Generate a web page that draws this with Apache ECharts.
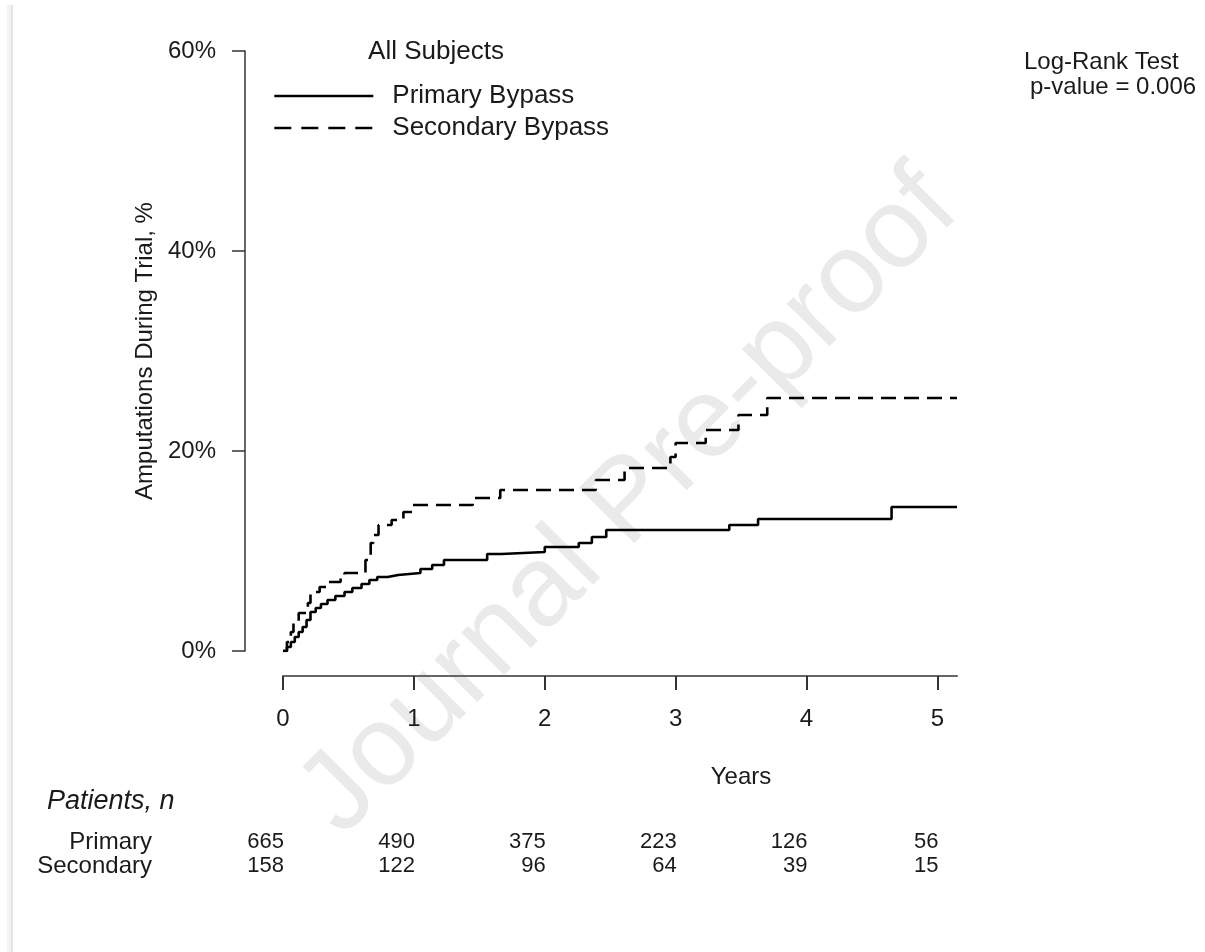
<!DOCTYPE html>
<html>
<head>
<meta charset="utf-8">
<script src="https://cdn.jsdelivr.net/npm/echarts@6/dist/echarts.min.js"></script>
<style>
html,body{margin:0;padding:0;background:#fff;}
#chart{width:1205px;height:952px;}
</style>
</head>
<body>
<div id="chart"></div>
<script>
// ---- data ----
var primaryTimes  = [0,0.03,0.06,0.09,0.12,0.15,0.18,0.21,0.25,0.29,0.34,0.40,0.47,0.53,0.60,0.66,0.72,0.80,0.88,1.05,1.14,1.23,1.56,1.67,2.00,2.26,2.36,2.47,3.41,3.63,4.65,5.15];
var primaryValues = [0,0.4,0.9,1.4,1.9,2.4,3.1,3.9,4.3,4.7,5.1,5.5,5.9,6.3,6.7,7.1,7.4,7.6,7.8,8.2,8.6,9.1,9.7,9.9,10.4,10.8,11.4,12.1,12.6,13.2,14.4,14.4];
var secondaryTimes  = [0,0.03,0.06,0.08,0.12,0.19,0.21,0.28,0.33,0.44,0.47,0.63,0.67,0.69,0.73,0.83,0.92,0.99,1.45,1.66,2.39,2.61,2.96,3.00,3.23,3.48,3.70,5.15];
var secondaryValues = [0,0.9,1.9,2.8,3.8,4.8,5.9,6.4,6.9,7.3,7.8,9.1,10.8,11.6,12.6,13.1,13.9,14.6,15.3,16.1,17.1,18.3,19.4,20.8,22.1,23.6,25.3,25.3];
var yTicks = [0,20,40,60];
var xTicks = [0,1,2,3,4,5];
var riskYears = [0,1,2,3,4,5];
var riskPrimary = [665,490,375,223,126,56];
var riskSecondary = [158,122,96,64,39,15];
var seriesNames = ['Primary Bypass','Secondary Bypass'];

function pairs(t,v){return t.map(function(x,i){return [x,v[i]];});}

var FONT = "'Liberation Sans', Arial, sans-serif";
var TXT = '#1a1a1a';
var chart = echarts.init(document.getElementById('chart'));

var option = {
  backgroundColor:'#fff',
  animation:false,
  grid:{left:283, top:51, width:674, height:600},
  xAxis:{
    type:'value', min:0, max:5.15, interval:1, offset:25,
    axisLine:{show:true, onZero:false, lineStyle:{color:'#666', width:2}},
    axisTick:{show:true, length:14, lineStyle:{color:'#333', width:2}},
    axisLabel:{margin:31, fontSize:24, color:TXT, fontFamily:FONT,
      formatter:function(v){return xTicks.indexOf(v)>=0? String(v):'';},
      showMaxLabel:false},
    splitLine:{show:false}
  },
  yAxis:{
    type:'value', min:0, max:60, interval:20, offset:38,
    axisLine:{show:true, onZero:false, lineStyle:{color:'#333', width:1.5}},
    axisTick:{show:true, length:13, lineStyle:{color:'#333', width:1.5}},
    axisLabel:{margin:29, fontSize:24, color:TXT, fontFamily:FONT,
      formatter:function(v){return v+'%';}},
    splitLine:{show:false},
    name:'Amputations During Trial, %', nameLocation:'middle', nameRotate:90, nameGap:88,
    nameTextStyle:{fontSize:24, color:TXT, fontFamily:FONT}
  },
  legend:{
    orient:'vertical', left:268, top:78, itemWidth:99, itemHeight:14, itemGap:6,
    data:[
      {name:seriesNames[0]},
      {name:seriesNames[1], lineStyle:{type:[17,10], width:2.6}}
    ],
    itemStyle:{opacity:0},
    lineStyle:{width:2.6},
    textStyle:{fontSize:26, color:TXT, fontFamily:FONT, padding:[0,0,0,14]}
  },
  series:[
    {name:seriesNames[0], type:'line', step:'end', symbol:'none', z:5,
     data:pairs(primaryTimes,primaryValues),
     lineStyle:{color:'#000', width:2.6, type:'solid'}, itemStyle:{color:'#000'}},
    {name:seriesNames[1], type:'line', step:'end', symbol:'none', z:5,
     data:pairs(secondaryTimes,secondaryValues),
     lineStyle:{color:'#000', width:2.6, type:[15,8]}, itemStyle:{color:'#000'}}
  ],
  graphic:[]
};
chart.setOption(option);

var g = [
  {type:'rect', shape:{x:7,y:5,width:6,height:947}, style:{fill:'#f3f3f3'}, z:0},
  {type:'rect', shape:{x:11,y:5,width:2,height:947}, style:{fill:'#e4e4e4'}, z:0},
  {type:'text', x:630, y:503, rotation:0.79, z:-1, zlevel:0,
   style:{text:'Journal Pre-proof', fontSize:114, fontFamily:FONT, fill:'#eaeaea', align:'center', verticalAlign:'middle'}},
  {type:'text', x:436, y:52, style:{text:'All Subjects', fontSize:26, fontFamily:FONT, fill:TXT, align:'center', verticalAlign:'middle'}},
  {type:'text', x:1024, y:62, style:{text:'Log-Rank Test', fontSize:24, fontFamily:FONT, fill:TXT, align:'left', verticalAlign:'middle'}},
  {type:'text', x:1030, y:87, style:{text:'p-value = 0.006', fontSize:24, fontFamily:FONT, fill:TXT, align:'left', verticalAlign:'middle'}},
  {type:'text', x:741, y:777, style:{text:'Years', fontSize:24, fontFamily:FONT, fill:TXT, align:'center', verticalAlign:'middle'}},
  {type:'text', x:47, y:801, style:{text:'Patients, n', fontSize:27, fontStyle:'italic', fontFamily:FONT, fill:TXT, align:'left', verticalAlign:'middle'}},
  {type:'text', x:152, y:842, style:{text:'Primary', fontSize:24, fontFamily:FONT, fill:TXT, align:'right', verticalAlign:'middle'}},
  {type:'text', x:152, y:866, style:{text:'Secondary', fontSize:24, fontFamily:FONT, fill:TXT, align:'right', verticalAlign:'middle'}}
];
riskYears.forEach(function(yr,i){
  var px = chart.convertToPixel({xAxisIndex:0}, yr);
  g.push({type:'text', x:px+1, y:842, style:{text:String(riskPrimary[i]), fontSize:22, fontFamily:FONT, fill:TXT, align:'right', verticalAlign:'middle'}});
  g.push({type:'text', x:px+1, y:866, style:{text:String(riskSecondary[i]), fontSize:22, fontFamily:FONT, fill:TXT, align:'right', verticalAlign:'middle'}});
});
chart.setOption({graphic:g});
</script>
</body>
</html>
